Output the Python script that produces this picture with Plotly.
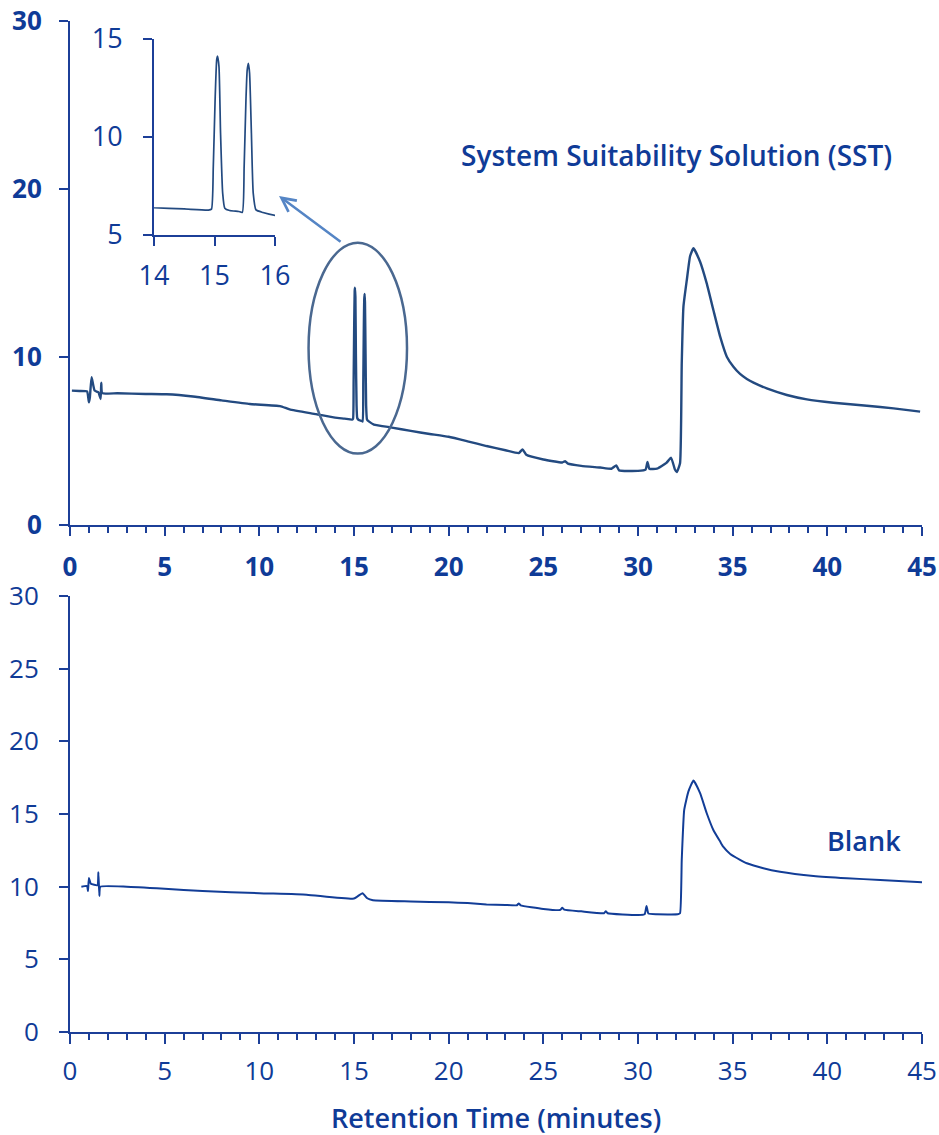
import plotly.graph_objects as go

# ---------------- data ----------------
sst_time = [0.1, 0.5, 0.9, 1.0, 1.05, 1.14, 1.3, 1.5, 1.62, 1.65, 1.7, 2.5, 4.0, 5.1, 6.5, 8.0,
            9.5, 11.1, 11.6, 13.0, 14.0, 14.5, 14.9, 14.95, 14.98, 15.01, 15.036, 15.05, 15.074,
            15.10, 15.135, 15.17, 15.25, 15.4, 15.46, 15.49, 15.52, 15.54, 15.56, 15.58, 15.61,
            15.64, 15.686, 15.8, 16.05, 17.0, 18.0, 19.0,
            20.0, 21.0, 22.0, 23.0, 23.7, 23.9, 24.1, 25.0, 26.0, 26.15, 26.3, 27.0, 28.0,
            28.6, 28.85, 29.0, 30.0, 30.4, 30.5, 30.6, 31.0, 31.5, 31.75, 31.95, 32.05, 32.22,
            32.31, 32.4, 32.58, 32.75, 32.93, 33.28, 33.63, 33.98, 34.34, 34.69, 35.04, 35.39,
            35.75, 36.1, 36.8, 37.86, 38.92, 40.32, 42.09, 43.5, 44.9]
sst_signal = [8.0, 7.98, 7.95, 7.3, 7.6, 8.8, 8.0, 7.9, 7.5, 8.47, 7.85, 7.84, 7.8, 7.78, 7.65, 7.42,
              7.2, 7.08, 6.88, 6.6, 6.39, 6.33, 6.27, 6.32, 8.48, 11.9, 13.93, 14.13, 13.59,
              10.2, 7.14, 6.37, 6.25, 6.2, 6.16, 8.48, 11.9, 13.4, 13.76, 13.25, 10.2,
              7.14, 6.28, 6.15, 5.98, 5.8, 5.6, 5.42,
              5.25, 4.98, 4.7, 4.45, 4.28, 4.5, 4.18, 3.9, 3.72, 3.8, 3.65, 3.52, 3.42,
              3.35, 3.55, 3.25, 3.22, 3.3, 3.75, 3.35, 3.35, 3.7, 4.0, 3.3, 3.15, 3.67,
              9.6, 13.0, 14.6, 16.0, 16.47, 15.67, 14.38, 12.8, 11.21, 10.02, 9.42, 8.99,
              8.69, 8.47, 8.13, 7.74, 7.48, 7.28, 7.1, 6.94, 6.75]

blank_time = [0.6, 0.9, 0.95, 1.0, 1.1, 1.45, 1.5, 1.55, 1.6, 3.0, 5.0, 7.0, 10.0, 12.5, 15.0,
              15.45, 15.7, 16.0, 18.0, 20.0, 21.0, 22.0, 23.0, 23.6, 23.7, 23.8, 25.0, 25.9,
              26.0, 26.1, 27.0, 28.2, 28.3, 28.4, 30.0, 30.35, 30.45, 30.55, 31.0, 32.1,
              32.22, 32.31, 32.44, 32.66, 32.93, 33.28, 33.63, 33.98, 34.34, 34.5, 34.87,
              35.39, 35.75, 36.62, 37.5, 39.27, 41.03, 42.79, 45.0]
blank_signal = [10.0, 10.05, 9.7, 10.6, 10.2, 10.1, 11.0, 9.36, 10.0, 10.0, 9.86, 9.7, 9.55, 9.45, 9.18,
                9.55, 9.2, 9.06, 8.98, 8.92, 8.87, 8.78, 8.74, 8.72, 8.85, 8.72, 8.47, 8.4,
                8.55, 8.42, 8.3, 8.17, 8.3, 8.17, 8.05, 8.1, 8.67, 8.15, 8.1, 8.1,
                8.17, 11.84, 15.28, 16.54, 17.3, 16.43, 15.05, 13.9, 13.1, 12.75, 12.25,
                11.85, 11.61, 11.27, 11.03, 10.74, 10.58, 10.46, 10.3]

main_y_ticks = [0, 10, 20, 30]
blank_y_ticks = [0, 5, 10, 15, 20, 25, 30]
x_ticks = [0, 5, 10, 15, 20, 25, 30, 35, 40, 45]
inset_x_ticks = [14, 15, 16]
inset_y_ticks = [5, 10, 15]

sst_label = "System Suitability Solution (SST)"
blank_label = "Blank"
x_title = "Retention Time (minutes)"

# ---------------- styling ----------------
W, H = 939, 1135
AX = "#1c3f98"
TXT = "#0f3b97"
FONT = "Open Sans"


def px_x(p):
    return p / W


def px_y(p):
    return 1 - p / H


fig = go.Figure()
fig.add_trace(go.Scatter(x=sst_time, y=sst_signal, mode="lines",
                         line=dict(color="#234a80", width=2.4, shape="spline", smoothing=0.4),
                         xaxis="x", yaxis="y", showlegend=False, hoverinfo="skip"))
fig.add_trace(go.Scatter(x=blank_time, y=blank_signal, mode="lines",
                         line=dict(color="#123d97", width=2, shape="spline", smoothing=0.4),
                         xaxis="x2", yaxis="y2", showlegend=False, hoverinfo="skip"))
fig.add_trace(go.Scatter(x=sst_time, y=sst_signal, mode="lines",
                         line=dict(color="#234a80", width=1.7, shape="spline", smoothing=0.5),
                         xaxis="x3", yaxis="y3", showlegend=False, hoverinfo="skip",
                         cliponaxis=True))

common = dict(showgrid=False, zeroline=False, showline=True, linecolor=AX, linewidth=2,
              ticks="outside", tickcolor=AX, tickwidth=2, automargin=False,
              ticklabeloverflow="allow")

bold_font = dict(family=FONT, size=26, color=TXT, weight=700)
norm_font = dict(family=FONT, size=26, color=TXT, weight=400)
inset_font = dict(family=FONT, size=27, color=TXT, weight=500)

fig.update_layout(
    width=W, height=H, margin=dict(l=0, r=0, t=0, b=0, autoexpand=False),
    paper_bgcolor="white", plot_bgcolor="rgba(0,0,0,0)",
    xaxis=dict(**common, domain=[px_x(70), px_x(922)], range=[0, 45], anchor="y",
               tickvals=x_ticks, ticklen=9, tickfont=bold_font, ticklabelstandoff=9,
               minor=dict(dtick=1, ticks="outside", ticklen=6, tickcolor=AX, tickwidth=2)),
    yaxis=dict(**common, domain=[px_y(525), px_y(21)], range=[0, 30], anchor="x",
               tickvals=main_y_ticks, ticklen=9, tickfont=bold_font, ticklabelstandoff=12),
    xaxis2=dict(**common, domain=[px_x(70), px_x(922)], range=[0, 45], anchor="y2",
                tickvals=x_ticks, ticklen=10, tickfont=norm_font, ticklabelstandoff=5,
                minor=dict(dtick=1, ticks="outside", ticklen=6, tickcolor=AX, tickwidth=2)),
    yaxis2=dict(**common, domain=[px_y(1032), px_y(596)], range=[0, 30], anchor="x2",
                tickvals=blank_y_ticks, ticklen=9, tickfont=norm_font, ticklabelstandoff=15),
    xaxis3=dict(**common, domain=[px_x(154), px_x(275)], range=[14, 16], anchor="y3",
                tickvals=inset_x_ticks, ticklen=9, tickfont=inset_font, ticklabelstandoff=7),
    yaxis3=dict(**common, domain=[px_y(235), px_y(39)], range=[5, 15], anchor="x3",
                tickvals=inset_y_ticks, ticklen=9, tickfont=inset_font, ticklabelstandoff=15),
)

# ellipse around the peaks
fig.add_shape(type="circle", xref="x", yref="y", x0=12.6, x1=17.8, y0=4.25, y1=16.8,
              line=dict(color="#4a6890", width=2.5))

# arrow from ellipse to inset
fig.add_annotation(x=11.04, y=19.58, ax=14.37, ay=16.79, xref="x", yref="y",
                   axref="x", ayref="y", showarrow=True, arrowhead=5, arrowsize=1.1,
                   arrowwidth=2.5, arrowcolor="#5585c5", text="")

fig.add_annotation(x=px_x(676), y=px_y(155), xref="paper", yref="paper", showarrow=False,
                   text=sst_label, font=dict(family=FONT, size=28, color=TXT, weight=600),
                   xanchor="center", yanchor="middle")
fig.add_annotation(x=px_x(864), y=px_y(840), xref="paper", yref="paper", showarrow=False,
                   text=blank_label, font=dict(family=FONT, size=27, color=TXT, weight=600),
                   xanchor="center", yanchor="middle")
fig.add_annotation(x=px_x(496), y=px_y(1117), xref="paper", yref="paper", showarrow=False,
                   text=x_title, font=dict(family=FONT, size=27, color=TXT, weight=600),
                   xanchor="center", yanchor="middle")

fig.write_html("out.html", config={"displayModeBar": False},
               post_script="document.body.style.margin='0';")
